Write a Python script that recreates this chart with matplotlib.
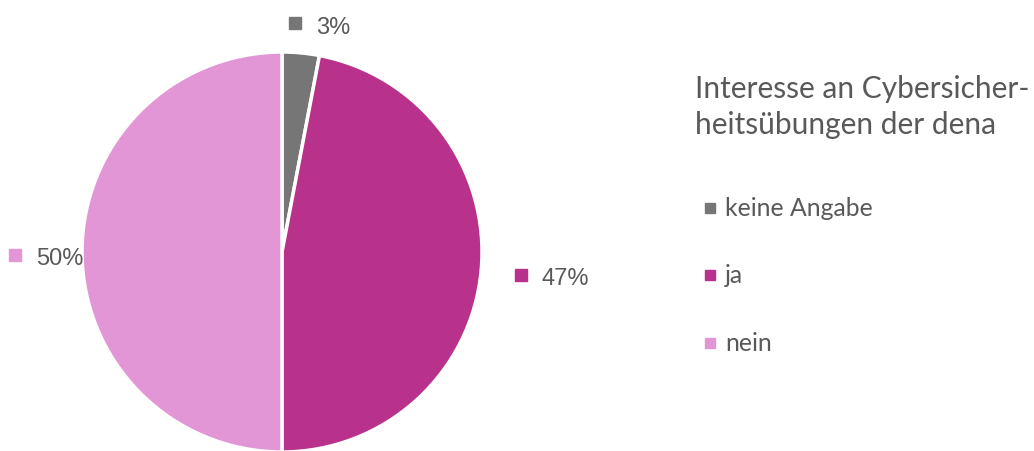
import numpy as np
import matplotlib.pyplot as plt

# Interesse an Cybersicherheitsübungen der dena
categories = ["keine Angabe", "ja", "nein"]
shares = [3, 47, 50]
pct_labels = ["3%", "47%", "50%"]
colors = ["#767676", "#B8318A", "#E396D6"]
title = "Interesse an Cybersicher-\nheitsübungen der dena"

text_col = "#595959"

fig = plt.figure(figsize=(10.34, 4.52), dpi=100)
W, H = 1034, 452
cx, cy, R = 282, 253, 200
ax = fig.add_axes([(cx - R) / W, (H - cy - R) / H, 2 * R / W, 2 * R / H])

wedges, _ = ax.pie(shares, colors=colors, startangle=90, counterclock=False,
                   wedgeprops=dict(edgecolor="white", linewidth=2.5))
ax.set_xlim(-1, 1)
ax.set_ylim(-1, 1)
ax.set_aspect("equal")
ax.axis("off")

# data labels: small square + percentage, placed outside each slice
label_dist = [1.15, 1.2, 1.335]
label_nudge = [(-0.045, 0.0), (0.0, 0.0), (0.0, -0.015)]
for w, lab, col, d, (nx, ny) in zip(wedges, pct_labels, colors, label_dist, label_nudge):
    ang = np.deg2rad((w.theta1 + w.theta2) / 2)
    x, y = d * np.cos(ang) + nx, d * np.sin(ang) + ny
    ax.plot(x, y, marker="s", ms=8, color=col, clip_on=False)
    ax.text(x + 0.105, y - 0.005, lab, ha="left", va="center_baseline", fontsize=17,
            color=text_col, family="Liberation Sans", clip_on=False)

# legend drawn by hand to match spacing
fig.text(695 / W, 1 - 107 / H, title, ha="left", va="center", fontsize=21.5,
         color=text_col, family="Lato", linespacing=1.35)
rows_y = [209, 276, 344]
for cat, col, ry in zip(categories, colors, rows_y):
    fig.add_artist(plt.Line2D([710 / W], [1 - ry / H], marker="s", ms=7.5,
                              color=col, transform=fig.transFigure))
    fig.text(725 / W, 1 - ry / H, cat, ha="left", va="center", fontsize=17.8,
             color=text_col, family="Lato")

fig.savefig("out.png", dpi=100)
